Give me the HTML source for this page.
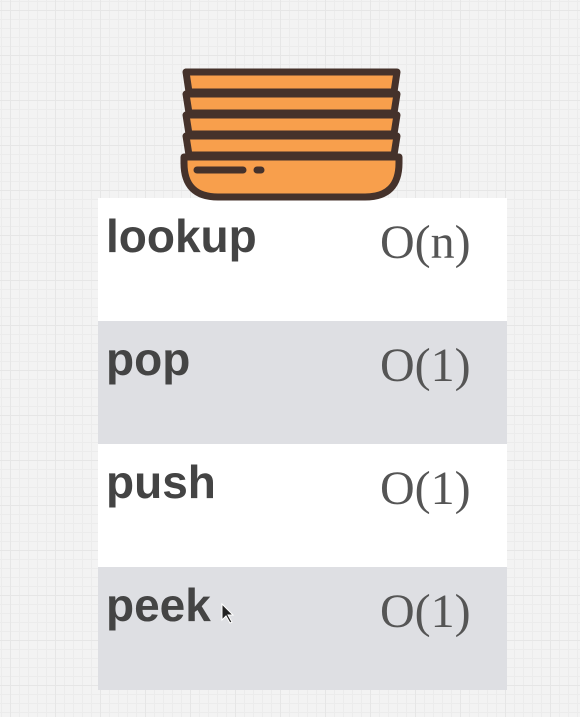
<!DOCTYPE html>
<html><head><style>
html,body{margin:0;padding:0}
body{width:580px;height:717px;overflow:hidden;position:relative;
background-color:#f3f3f3;
background-image:
linear-gradient(#e6e6e6 1px,transparent 1px),
linear-gradient(90deg,#e6e6e6 1px,transparent 1px),
linear-gradient(#ececec 1px,transparent 1px),
linear-gradient(90deg,#ececec 1px,transparent 1px);
background-size:45px 45px,45px 45px,9px 9px,9px 9px;
background-position:0 10px,10px 0,0 1px,1px 0;}
.row{position:absolute;left:98px;width:409px;height:123px}
.k{position:absolute;left:8px;top:11px;font:bold 46px "Liberation Sans",sans-serif;color:#444}
.v{position:absolute;left:282px;top:17px;font:48px "Liberation Serif",serif;color:#555}
</style></head><body>
<div class="row" style="top:198px;background:#fff"><div class="k">lookup</div><div class="v">O(n)</div></div>
<div class="row" style="top:321px;background:#dedfe3"><div class="k">pop</div><div class="v">O(1)</div></div>
<div class="row" style="top:444px;background:#fff"><div class="k">push</div><div class="v">O(1)</div></div>
<div class="row" style="top:567px;background:#dedfe3"><div class="k">peek</div><div class="v">O(1)</div></div>
<svg style="position:absolute;left:0;top:0" width="580" height="717">
<g stroke="#45322b" stroke-width="7" stroke-linejoin="round" stroke-linecap="round" fill="#f89f4c">
<path d="M184,157 L399,157 L399,163 Q399,197 365,197 L218,197 Q184,197 184,163 Z"/>
<path d="M186,136 L397,136 L394,155 L189,155 Z"/>
<path d="M186,115 L397,115 L394,134 L189,134 Z"/>
<path d="M186,94 L397,94 L394,113 L189,113 Z"/>
<path d="M186,72 L397,72 L394,92 L189,92 Z"/>
<path d="M197,170 L243,170 M257,170 L261,170" fill="none"/>
</g>
<path d="M222 604 L222 620 L226 616 L230 623 L232 622 L228 615 L233 615 Z" fill="#222" stroke="#fff" stroke-width="1"/>
</svg>
</body></html>
